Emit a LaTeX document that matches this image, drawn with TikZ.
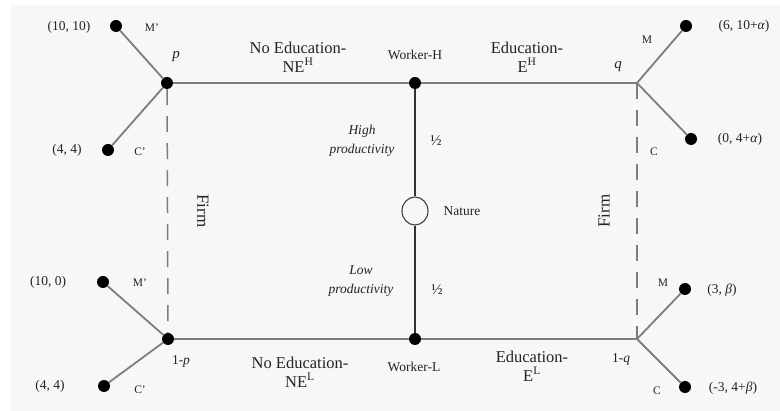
\documentclass[tikz,border=0pt]{standalone}
\usepackage{fontspec}
\setmainfont{Liberation Serif}
\usetikzlibrary{shapes.geometric}
\definecolor{bgc}{RGB}{247,247,247}
\definecolor{linec}{RGB}{125,125,125}
\definecolor{txtc}{RGB}{35,35,35}
\begin{document}
\begin{tikzpicture}[x=1pt,y=-1pt,
  dot/.style={circle,fill=black,inner sep=0pt,minimum size=12pt},
  nat/.style={ellipse,draw=black!75,line width=1.1pt,fill=bgc,inner sep=0pt,minimum width=26pt,minimum height=28pt},
  branch/.style={draw=linec,line width=1.8pt},
  natline/.style={draw=black!80,line width=1.5pt},
  firmline/.style={draw=linec,line width=1.5pt,dash pattern=on 16pt off 11pt},
  lab/.style={text=txtc,font=\fontsize{13.5}{16}\selectfont,inner sep=0pt},
  small/.style={text=txtc,font=\fontsize{13.5}{15}\selectfont,inner sep=0pt},
  tiny/.style={text=txtc,font=\fontsize{11.5}{13}\selectfont,inner sep=0pt},
  big/.style={text=txtc,font=\fontsize{16.5}{19}\selectfont,inner sep=0pt,align=center},
  prod/.style={text=txtc,font=\fontsize{13.5}{19}\itshape\selectfont,inner sep=0pt,align=center}
]
\useasboundingbox (0,0) rectangle (780,411);
\fill[white] (0,0) rectangle (780,411);
\fill[bgc] (10,5) rectangle (780,411);
% decision nodes
\node[dot] (p) at (167,83) {};
\coordinate (q) at (637,83);
\node[dot] (wh) at (415,83) {};
\node[nat] (nat) at (415,211) {};
\node[dot] (wl) at (415,339) {};
\node[dot] (p1) at (168,339) {};
\coordinate (q1) at (637,339);
% leaves
\node[dot] (lm) at (116,26) {};
\node[dot] (lc) at (108,150) {};
\node[dot] (rm) at (686,26) {};
\node[dot] (rc) at (691,139) {};
\node[dot] (lm1) at (103,282) {};
\node[dot] (lc1) at (104,386) {};
\node[dot] (rm1) at (685,289) {};
\node[dot] (rc1) at (685,387) {};
% connectors
\draw[branch] (p) -- (wh);
\draw[branch] (wh) -- (q);
\draw[branch] (p1) -- (wl);
\draw[branch] (wl) -- (q1);
\draw[branch] (p) -- (lm);
\draw[branch] (p) -- (lc);
\draw[branch] (q) -- (rm);
\draw[branch] (q) -- (rc);
\draw[branch] (p1) -- (lm1);
\draw[branch] (p1) -- (lc1);
\draw[branch] (q1) -- (rm1);
\draw[branch] (q1) -- (rc1);
\draw[firmline] (p) -- (p1);
\draw[firmline] (q) -- (q1);
\draw[natline] (wh) -- (nat);
\draw[natline] (nat) -- (wl);
% payoff labels
\node[lab] (t1) at (69,27) {(10, 10)};
\node[lab] (t2) at (67,150) {(4, 4)};
\node[lab] (t3) at (744,26) {(6, 10+\textit{α})};
\node[lab] (t4) at (740,139) {(0, 4+\textit{α})};
\node[lab] (t5) at (48,282) {(10, 0)};
\node[lab] (t6) at (50,386) {(4, 4)};
\node[lab] (t7) at (722,290) {(3, \textit{β})};
\node[lab] (t8) at (733,388) {(-3, 4+\textit{β})};
% action labels
\node[tiny] (a1) at (152,28) {M'};
\node[tiny] (a2) at (140,152) {C'};
\node[tiny] (a3) at (647,40) {M};
\node[tiny] (a4) at (654,152) {C};
\node[tiny] (a5) at (140,283) {M'};
\node[tiny] (a6) at (140,390) {C'};
\node[tiny] (a7) at (663,283) {M};
\node[tiny] (a8) at (657,391) {C};
% probabilities
\node[lab,font=\fontsize{15}{18}\itshape\selectfont] (pp) at (176,57) {p};
\node[lab] (p1l) at (181,361) {1-\textit{p}};
\node[lab,font=\fontsize{15}{18}\itshape\selectfont] (qq) at (618,67) {q};
\node[lab] (q1l) at (621,359) {1-\textit{q}};
% edge labels
\node[big] (neh) at (298,57) {No Education-\\NE\textsuperscript{H}};
\node[big] (eh) at (527,57) {Education-\\E\textsuperscript{H}};
\node[big] (nel) at (300,372) {No Education-\\NE\textsuperscript{L}};
\node[big] (el) at (532,366) {Education-\\E\textsuperscript{L}};
\node[small] (wht) at (415,55) {Worker-H};
\node[small] (wlt) at (414,367) {Worker-L};
\node[small] (natt) at (462,211) {Nature};
\node[prod] (hp) at (362,141) {High\\productivity};
\node[prod] (lp) at (361,281) {Low\\productivity};
\node[lab,font=\fontsize{15}{17}\selectfont] (h1) at (436,141) {½};
\node[lab,font=\fontsize{15}{17}\selectfont] (h2) at (437,290) {½};
\node[lab,font=\fontsize{17}{19}\selectfont,rotate=-90] (f1) at (203,211) {Firm};
\node[lab,font=\fontsize{17}{19}\selectfont,rotate=90] (f2) at (604,211) {Firm};
\end{tikzpicture}
\end{document}
